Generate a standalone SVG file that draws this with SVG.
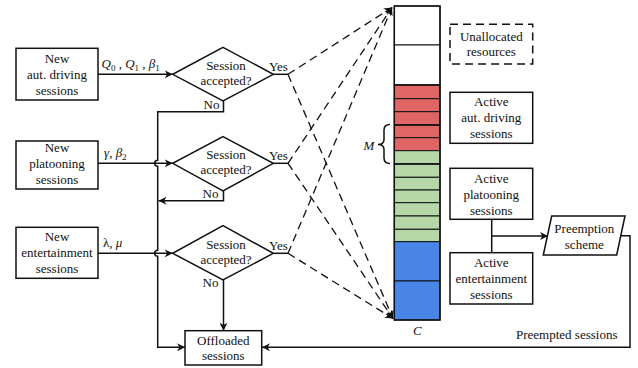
<svg xmlns="http://www.w3.org/2000/svg" width="638" height="368" viewBox="0 0 638 368">
  <style>
    text { font-family: "Liberation Serif", "Times New Roman", serif; font-size: 13px; fill: #111; }
    .c { text-anchor: middle; }
    .box { fill: #fff; stroke: #111; stroke-width: 1.5; }
    .dbox { fill: #fff; stroke: #111; stroke-width: 1.5; stroke-dasharray: 8 5; }
    .line { fill: none; stroke: #111; stroke-width: 1.5; }
    .arrow { fill: none; stroke: #111; stroke-width: 1.5; marker-end: url(#ah); }
    .dash { fill: none; stroke: #111; stroke-width: 1.3; stroke-dasharray: 8 5; marker-end: url(#ah); }
    .it { font-style: italic; }
    .sub { font-size: 9px; }
    .cell { stroke: #111; stroke-width: 1; }
    .red { fill: #e06666; }
    .green { fill: #b6d7a8; }
    .blue { fill: #4a86e8; }
    .white { fill: #fff; }
  </style>
  <defs>
    <marker id="ah" viewBox="0 0 10 10" refX="10" refY="5" markerWidth="8" markerHeight="8" markerUnits="userSpaceOnUse" orient="auto">
      <path d="M0,0 L10,5 L0,10 L3,5 z" fill="#111"/>
    </marker>
  </defs>

  <!-- connectors -->
  <g id="connectors">
    <!-- new sessions into decision diamonds -->
    <line class="arrow" x1="98" y1="74.3" x2="172.7" y2="74.3"/>
    <line class="arrow" x1="98" y1="163.3" x2="172.7" y2="163.3"/>
    <line class="arrow" x1="98" y1="253.3" x2="172.7" y2="253.3"/>
    <!-- rejected sessions bus to offloaded -->
    <path class="arrow" d="M223.5,101 V111.7 H157.7 V160.3 A3,3 0 0 0 157.7,166.3 V250.3 A3,3 0 0 0 157.7,256.3 V347.3 H185"/>
    <path class="arrow" d="M223.5,191 V200.7 H158.5"/>
    <line class="arrow" x1="223.5" y1="280" x2="223.5" y2="330.7"/>
    <!-- yes stubs -->
    <line class="line" x1="273.3" y1="74.3" x2="288" y2="74.3"/>
    <line class="line" x1="273.3" y1="163.3" x2="288" y2="163.3"/>
    <line class="line" x1="273.3" y1="253.3" x2="288" y2="253.3"/>
    <!-- accepted sessions into the resource pool -->
    <line class="dash" x1="288" y1="74.3" x2="392" y2="7.5"/>
    <line class="dash" x1="288" y1="74.3" x2="393" y2="318.5"/>
    <line class="dash" x1="288" y1="163.3" x2="392" y2="7.5"/>
    <line class="dash" x1="288" y1="163.3" x2="393" y2="318.5"/>
    <line class="dash" x1="288" y1="253.3" x2="392" y2="7.5"/>
    <line class="dash" x1="288" y1="253.3" x2="393" y2="318.5"/>
    <!-- active sessions to preemption -->
    <line class="line" x1="491.7" y1="219.3" x2="491.7" y2="252.7"/>
    <line class="arrow" x1="491.7" y1="236" x2="548" y2="236"/>
    <!-- preempted sessions back to offloaded -->
    <path class="arrow" d="M621,235.7 H630 V347.3 H262"/>
  </g>

  <!-- edge labels -->
  <g id="labels">
    <text x="101.5" y="67.5"><tspan class="it">Q</tspan><tspan class="sub" dy="3">0</tspan><tspan dy="-3"> , </tspan><tspan class="it">Q</tspan><tspan class="sub" dy="3">1</tspan><tspan dy="-3"> , </tspan><tspan class="it">β</tspan><tspan class="sub" dy="3">1</tspan></text>
    <text x="104" y="157"><tspan class="it">γ</tspan>, <tspan class="it">β</tspan><tspan class="sub" dy="3">2</tspan></text>
    <text x="103" y="246.7">λ, <tspan class="it">μ</tspan></text>
    <text x="269" y="71">Yes</text>
    <text x="269" y="160">Yes</text>
    <text x="269" y="250">Yes</text>
    <text x="203.5" y="109">No</text>
    <text x="202.5" y="198">No</text>
    <text x="202.5" y="287">No</text>
    <text x="516" y="339">Preempted sessions</text>
  </g>

  <!-- arrival nodes -->
  <g id="new-aut-driving">
    <rect class="box" x="16" y="48.3" width="82" height="51.7"/>
    <text class="c" x="57" y="63">New</text>
    <text class="c" x="57" y="79">aut. driving</text>
    <text class="c" x="57" y="95">sessions</text>
  </g>
  <g id="new-platooning">
    <rect class="box" x="16" y="141" width="82" height="48"/>
    <text class="c" x="57" y="152">New</text>
    <text class="c" x="57" y="168">platooning</text>
    <text class="c" x="57" y="184">sessions</text>
  </g>
  <g id="new-entertainment">
    <rect class="box" x="16" y="227.3" width="82" height="51"/>
    <text class="c" x="57" y="241">New</text>
    <text class="c" x="57" y="257">entertainment</text>
    <text class="c" x="57" y="273">sessions</text>
  </g>

  <!-- admission decisions -->
  <g id="decision-1">
    <polygon class="box" points="223,47.3 273.3,74.3 223,101 172.7,74.3"/>
    <text class="c" x="226" y="69.5">Session</text>
    <text class="c" x="226" y="85">accepted?</text>
  </g>
  <g id="decision-2">
    <polygon class="box" points="223,136.7 273.3,163.3 223,191 172.7,163.3"/>
    <text class="c" x="226" y="158.5">Session</text>
    <text class="c" x="226" y="174">accepted?</text>
  </g>
  <g id="decision-3">
    <polygon class="box" points="223,225.7 273.3,253.3 223,280 172.7,253.3"/>
    <text class="c" x="226" y="248.5">Session</text>
    <text class="c" x="226" y="264">accepted?</text>
  </g>

  <g id="offloaded">
    <rect class="box" x="185" y="330.7" width="76.7" height="34.3"/>
    <text class="c" x="223.3" y="345">Offloaded</text>
    <text class="c" x="223.3" y="360">sessions</text>
  </g>

  <!-- resource pool of C units -->
  <g id="resource-pool">
    <rect class="cell white" x="394.3" y="6" width="45.7" height="39"/>
    <rect class="cell white" x="394.3" y="45" width="45.7" height="40"/>
    <rect class="cell red" x="394.3" y="85" width="45.7" height="13.7"/>
    <rect class="cell red" x="394.3" y="98.7" width="45.7" height="13"/>
    <rect class="cell red" x="394.3" y="111.7" width="45.7" height="13.3"/>
    <rect class="cell red" x="394.3" y="125" width="45.7" height="12.7"/>
    <rect class="cell red" x="394.3" y="137.7" width="45.7" height="13"/>
    <rect class="cell green" x="394.3" y="150.7" width="45.7" height="13.3"/>
    <rect class="cell green" x="394.3" y="164" width="45.7" height="13.3"/>
    <rect class="cell green" x="394.3" y="177.3" width="45.7" height="12.7"/>
    <rect class="cell green" x="394.3" y="190" width="45.7" height="12.7"/>
    <rect class="cell green" x="394.3" y="202.7" width="45.7" height="13.3"/>
    <rect class="cell green" x="394.3" y="216" width="45.7" height="13.3"/>
    <rect class="cell green" x="394.3" y="229.3" width="45.7" height="12.4"/>
    <rect class="cell blue" x="394.3" y="241.7" width="45.7" height="39.3"/>
    <rect class="cell blue" x="394.3" y="281" width="45.7" height="39"/>
    <line class="line" x1="394.3" y1="85" x2="440" y2="85"/>
    <line class="line" x1="394.3" y1="125" x2="440" y2="125"/>
    <line class="line" x1="394.3" y1="164" x2="440" y2="164"/>
    <rect x="394.3" y="6" width="45.7" height="314" fill="none" stroke="#111" stroke-width="1.5"/>
    <!-- brace marking M units -->
    <path class="line" d="M390,124.5 Q384,124.5 384,130 V139.5 Q384,144.5 378,144.5 Q384,144.5 384,149.5 V158 Q384,163.5 390,163.5" stroke-width="1.2"/>
    <text class="it" x="363.5" y="150">M</text>
    <text class="it" x="413" y="335">C</text>
  </g>

  <!-- legend / pool state nodes -->
  <g id="unallocated">
    <rect class="dbox" x="450" y="24.3" width="82.7" height="39.7"/>
    <text class="c" x="491.3" y="40.5">Unallocated</text>
    <text class="c" x="491.3" y="56">resources</text>
  </g>
  <g id="active-aut-driving">
    <rect class="box" x="450" y="92.3" width="82.7" height="51"/>
    <text class="c" x="491.3" y="106">Active</text>
    <text class="c" x="491.3" y="122">aut. driving</text>
    <text class="c" x="491.3" y="138">sessions</text>
  </g>
  <g id="active-platooning">
    <rect class="box" x="450" y="168.3" width="82.7" height="51"/>
    <text class="c" x="491.3" y="182.5">Active</text>
    <text class="c" x="491.3" y="198.5">platooning</text>
    <text class="c" x="491.3" y="214.5">sessions</text>
  </g>
  <g id="active-entertainment">
    <rect class="box" x="450" y="252.7" width="82.7" height="51.3"/>
    <text class="c" x="491.3" y="267">Active</text>
    <text class="c" x="491.3" y="283">entertainment</text>
    <text class="c" x="491.3" y="299">sessions</text>
  </g>
  <g id="preemption-scheme">
    <polygon class="box" points="551.7,216 625,216 616.7,255 543.3,255"/>
    <text class="c" x="584.3" y="233">Preemption</text>
    <text class="c" x="584.3" y="248.5">scheme</text>
  </g>
</svg>
